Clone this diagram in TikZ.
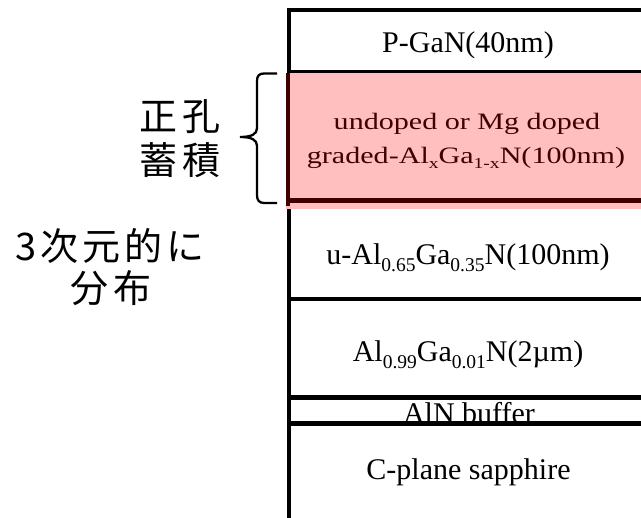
\documentclass[tikz,border=0pt]{standalone}
\usepackage{fontspec}
\usepackage{graphicx}
\setmainfont{Liberation Serif}
\newfontfamily\jp[LetterSpace=11]{Noto Sans CJK JP}
\definecolor{pinkfill}{HTML}{FFBFBF}
\definecolor{darkred}{HTML}{3F0000}
\newcommand\sbs[1]{\raisebox{-0.22em}{\scalebox{0.65}{#1}}}
\begin{document}
\begin{tikzpicture}[x=1pt,y=-1pt,
  layertext/.style={font=\fontsize{30}{36}\selectfont, anchor=base, inner sep=0pt},
  pinktext/.style={font=\fontsize{23.5}{28}\selectfont, anchor=base, inner sep=0pt, text=darkred},
  jptext/.style={font=\jp\fontsize{38}{44}\selectfont, inner sep=0pt},
  blk/.style={line width=#1, black},
  blk/.default=4pt]
\useasboundingbox (0,0) rectangle (641,518);
\fill[white] (0,0) rectangle (641,518);
% corners / edges
\coordinate (tl) at (287,10.5);
\coordinate (tr) at (641,10.5);
\coordinate (vtop) at (289,8.5);
\coordinate (vbot) at (289,518);
% frame
\draw[blk] (vtop) -- (vbot);
\draw[blk] (tl) -- (tr);
\draw[blk=3pt] (287,72) -- (641,72);
% pink layer
\fill[pinkfill] (286,73.5) rectangle (641,209);
\draw[darkred, line width=4pt] (288,73.5) -- (288,206);
\draw[darkred, line width=5pt] (286,201) -- (641,201);
% other lines
\draw[blk=3.5pt] (289,299) -- (641,299);
% texts
\node[layertext] (pgan) at (468,53) {P-GaN(40nm)};
\node[pinktext] (mg1) at (467,129.3) {\scalebox{1.28}[1]{undoped or Mg doped}};
\node[pinktext] (mg2) at (466,163.3) {\scalebox{1.28}[1]{graded-Al\sbs{x}Ga\sbs{1-x}N(100nm)}};
\node[layertext] (ual) at (468,264.5) {u-Al\sbs{0.65}Ga\sbs{0.35}N(100nm)};
\node[layertext] (al99) at (468,362) {Al\sbs{0.99}Ga\sbs{0.01}N(2µm)};
\node[layertext] (aln) at (469,424) {AlN buffer};
\node[layertext] (sap) at (468.5,480) {C-plane  sapphire};
\draw[blk=5pt] (289,397.5) -- (641,397.5);
\draw[blk=5pt] (289,423.3) -- (641,423.3);
% brace
\draw[line width=2.3pt] (277,73.5) -- (264,73.5) .. controls (259,73.5) and (257,76) .. (257,81) -- (257,128) .. controls (257,134) and (252,137) .. (240,137) .. controls (252,137) and (257,140) .. (257,146) -- (257,195) .. controls (257,200) and (259,203) .. (264,203) -- (277,203);
% Japanese labels
\node[jptext] (j1) at (180,117) {正孔};
\node[jptext] (j2) at (180,160) {蓄積};
\node[jptext] (j3) at (110,246) {3次元的に};
\node[jptext] (j4) at (111,288) {分布};
\end{tikzpicture}
\end{document}
